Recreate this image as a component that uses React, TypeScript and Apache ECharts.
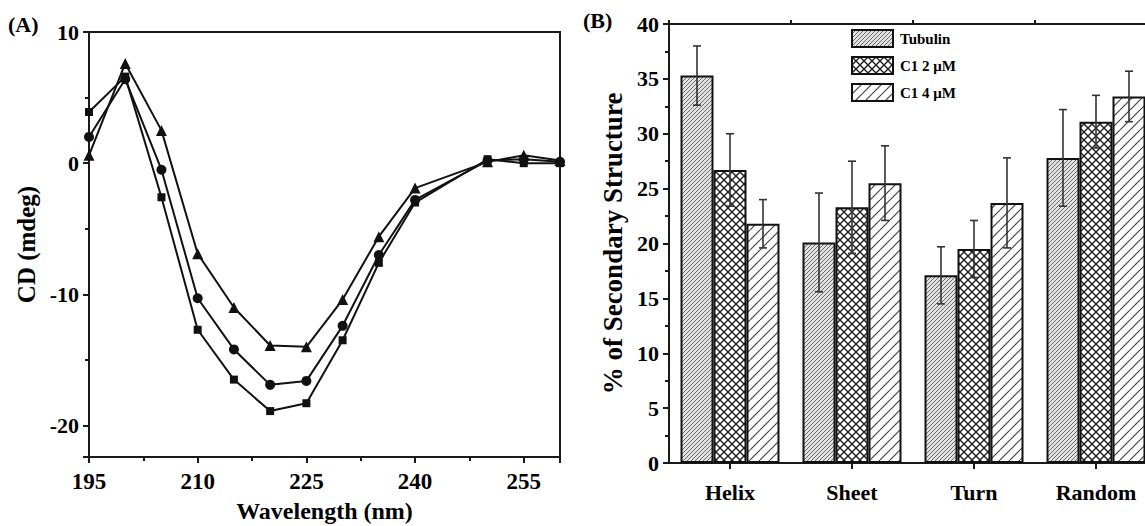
import React, { useEffect, useRef } from 'react';
import * as echarts from 'echarts';

// ---------- Panel A data (CD spectra) ----------
const wavelength = [195, 200, 205, 210, 215, 220, 225, 230, 235, 240, 250, 255, 260];
const cdTriangle = [0.6, 7.6, 2.5, -6.9, -11.0, -13.9, -14.0, -10.4, -5.6, -1.9, 0.1, 0.6, 0.2];
const cdCircle = [2.0, 6.4, -0.5, -10.3, -14.2, -16.9, -16.6, -12.4, -7.0, -2.8, 0.2, 0.3, 0.1];
const cdSquare = [3.9, 6.6, -2.6, -12.7, -16.5, -18.9, -18.3, -13.5, -7.6, -3.0, 0.3, 0.0, 0.0];

// ---------- Panel B data (secondary structure) ----------
const categories = ['Helix', 'Sheet', 'Turn', 'Random'];
const seriesNames = ['Tubulin', 'C1 2 μM', 'C1 4 μM'];
const tubulin = [35.3, 20.1, 17.1, 27.8];
const tubulinErr = [2.7, 4.5, 2.6, 4.4];
const c1Two = [26.7, 23.3, 19.5, 31.1];
const c1TwoErr = [3.3, 4.2, 2.6, 2.4];
const c1Four = [21.8, 25.5, 23.7, 33.4];
const c1FourErr = [2.2, 3.4, 4.1, 2.3];

const FONT = '"Liberation Serif", "Times New Roman", serif';
const BAR_W = 33;
const AXIS_COLOR = '#1a1a1a';

function hatch(size: number, bg: string, fg: string, lw: number, dirs: string[]) {
  const c = document.createElement('canvas');
  c.width = size;
  c.height = size;
  const ctx = c.getContext('2d')!;
  ctx.fillStyle = bg;
  ctx.fillRect(0, 0, size, size);
  ctx.strokeStyle = fg;
  ctx.lineWidth = lw;
  for (const d of dirs) {
    for (const k of [-1, 0, 1]) {
      ctx.beginPath();
      if (d === '/') {
        ctx.moveTo(k * size, size);
        ctx.lineTo(k * size + size, 0);
      } else {
        ctx.moveTo(k * size, 0);
        ctx.lineTo(k * size + size, size);
      }
      ctx.stroke();
    }
  }
  return { image: c, repeat: 'repeat', imageWidth: size, imageHeight: size } as any;
}

export default function App() {
  const ref = useRef<HTMLDivElement>(null);

  useEffect(() => {
    if (!ref.current) return;
    const chart = echarts.init(ref.current, undefined, { renderer: 'svg' });

    const patTub = hatch(4, '#e2e2e2', '#6a6a6a', 1, ['/']);
    const patC2 = hatch(8, '#ffffff', '#222222', 1.4, ['/', '\\']);
    const patC4 = hatch(10, '#ffffff', '#444444', 1.2, ['/']);
    const pats = [patTub, patC2, patC4];
    const vals = [tubulin, c1Two, c1Four];
    const errs = [tubulinErr, c1TwoErr, c1FourErr];

    const axisLine = { show: true, onZero: false, lineStyle: { color: AXIS_COLOR, width: 2 } };
    const tickLabel = (size: number, margin: number) => ({
      color: '#000',
      fontFamily: FONT,
      fontWeight: 'bold',
      fontSize: size,
      margin,
    });

    const errData: any[] = [];
    vals.forEach((v, si) => {
      v.forEach((val, ci) => {
        errData.push([ci, val, errs[si][ci], si]);
      });
    });

    const lineSeries = (data: number[], symbol: string, size: number) => ({
      type: 'line',
      xAxisIndex: 0,
      yAxisIndex: 0,
      data: wavelength.map((w, i) => [w, data[i]]),
      symbol,
      symbolSize: size,
      showSymbol: true,
      lineStyle: { color: '#111', width: 2 },
      itemStyle: { color: '#111' },
      z: 3,
    });

    const option: any = {
      animation: false,
      grid: [
        { left: 89, top: 32, width: 471, height: 425, show: true, borderColor: AXIS_COLOR, borderWidth: 2, backgroundColor: 'transparent', outerBoundsMode: 'none', containLabel: false },
        { left: 669, top: 24, width: 488, height: 439, show: true, borderColor: AXIS_COLOR, borderWidth: 2, backgroundColor: 'transparent', outerBoundsMode: 'none', containLabel: false },
      ],
      xAxis: [
        {
          type: 'value',
          gridIndex: 0,
          min: 195,
          max: 260,
          interval: 15,
          axisLine,
          axisTick: { show: true, length: 6, lineStyle: { color: AXIS_COLOR, width: 2 } },
          minorTick: { show: true, splitNumber: 2, length: 4, lineStyle: { color: AXIS_COLOR, width: 2 } },
          axisLabel: { ...tickLabel(23, 13), showMaxLabel: false },
          splitLine: { show: false },
          name: 'Wavelength (nm)',
          nameLocation: 'middle',
          nameGap: 40,
          nameTextStyle: { color: '#000', fontFamily: FONT, fontWeight: 'bold', fontSize: 24, lineHeight: 26 },
        },
        {
          type: 'category',
          gridIndex: 1,
          data: categories,
          axisLine,
          axisTick: { show: true, alignWithLabel: true, length: 6, lineStyle: { color: AXIS_COLOR, width: 2 } },
          axisLabel: tickLabel(22, 18),
          splitLine: { show: false },
        },
        {
          type: 'value',
          gridIndex: 1,
          min: 0,
          max: 4,
          interval: 1,
          axisLine: { show: false, onZero: false },
          axisTick: { show: true, length: 4, lineStyle: { color: AXIS_COLOR, width: 2 } },
          axisLabel: { show: false },
          splitLine: { show: false },
        },
      ],
      yAxis: [
        {
          type: 'value',
          gridIndex: 0,
          min: -22.4,
          max: 10,
          minInterval: 10,
          maxInterval: 10,
          axisLine,
          axisTick: { show: true, length: 6, lineStyle: { color: AXIS_COLOR, width: 2 } },
          minorTick: { show: true, splitNumber: 2, length: 4, lineStyle: { color: AXIS_COLOR, width: 2 } },
          axisLabel: { ...tickLabel(22, 10), showMinLabel: false },
          splitLine: { show: false },
          name: 'CD (mdeg)',
          nameLocation: 'middle',
          nameGap: 50,
          nameTextStyle: { color: '#000', fontFamily: FONT, fontWeight: 'bold', fontSize: 25 },
        },
        {
          type: 'value',
          gridIndex: 1,
          min: 0,
          max: 40,
          interval: 5,
          axisLine,
          axisTick: { show: true, length: 6, lineStyle: { color: AXIS_COLOR, width: 2 } },
          minorTick: { show: true, splitNumber: 2, length: 4, lineStyle: { color: AXIS_COLOR, width: 2 } },
          axisLabel: tickLabel(22, 10),
          splitLine: { show: false },
          name: '% of Secondary Structure',
          nameLocation: 'middle',
          nameGap: 43,
          nameTextStyle: { color: '#000', fontFamily: FONT, fontWeight: 'bold', fontSize: 27 },
        },
      ],
      legend: {
        data: seriesNames,
        orient: 'vertical',
        left: 851,
        top: 29,
        padding: 0,
        itemWidth: 41,
        itemHeight: 17,
        itemGap: 8,
        icon: 'rect',
        itemStyle: { borderColor: '#111', borderWidth: 2 },
        textStyle: { color: '#000', fontFamily: FONT, fontWeight: 'bold', fontSize: 15, padding: [0, 0, 0, 2] },
      },
      graphic: [
        { type: 'text', left: 8, top: 13, style: { text: '(A)', fill: '#000', font: `bold 22px ${FONT}` } },
        { type: 'text', left: 583, top: 9, style: { text: '(B)', fill: '#000', font: `bold 22px ${FONT}` } },
      ],
      series: [
        lineSeries(cdSquare, 'rect', 8),
        lineSeries(cdCircle, 'circle', 10),
        lineSeries(cdTriangle, 'triangle', 11),
        ...vals.map((v, si) => ({
          type: 'bar',
          name: seriesNames[si],
          xAxisIndex: 1,
          yAxisIndex: 1,
          data: v,
          barWidth: BAR_W,
          barGap: '0%',
          itemStyle: { color: pats[si], borderColor: '#111', borderWidth: 2 },
          z: 2,
        })),
        {
          type: 'custom',
          xAxisIndex: 1,
          yAxisIndex: 1,
          data: errData,
          encode: { x: 0, y: 1 },
          z: 5,
          renderItem: (params: any, api: any) => {
            const ci = api.value(0);
            const v = api.value(1);
            const e = api.value(2);
            const si = api.value(3);
            const top = api.coord([ci, v + e]);
            const bot = api.coord([ci, v - e]);
            const x = top[0] + (si - 1) * BAR_W;
            const cap = 4;
            const style = { stroke: '#333', lineWidth: 1.6, fill: 'none' };
            return {
              type: 'group',
              children: [
                { type: 'line', shape: { x1: x, y1: top[1], x2: x, y2: bot[1] }, style },
                { type: 'line', shape: { x1: x - cap, y1: top[1], x2: x + cap, y2: top[1] }, style },
                { type: 'line', shape: { x1: x - cap, y1: bot[1], x2: x + cap, y2: bot[1] }, style },
              ],
            };
          },
        },
      ],
    };

    chart.setOption(option);
    return () => chart.dispose();
  }, []);

  return (
    <div
      ref={ref}
      style={{ position: 'absolute', left: 0, top: 0, width: 1145, height: 526, background: '#fff' }}
    />
  );
}
